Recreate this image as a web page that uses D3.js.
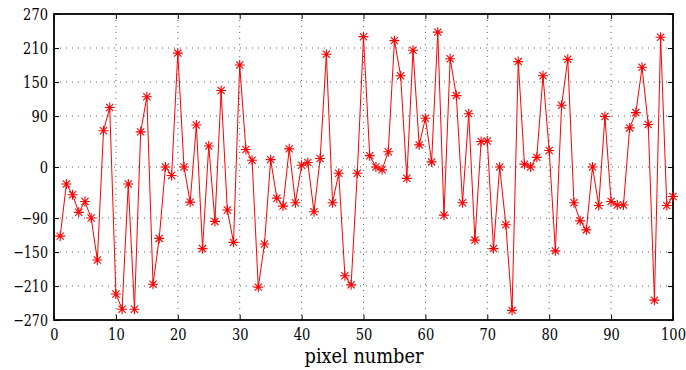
<!DOCTYPE html>
<html>
<head>
<meta charset="utf-8">
<script src="https://cdn.jsdelivr.net/npm/d3@7"></script>
<style>
html,body{margin:0;padding:0;background:#fff;}
svg{display:block;}
</style>
</head>
<body>
<svg id="chart" width="686" height="370"></svg>
<script>
const xValues = d3.range(1, 101);
const yValues = [
 -122, -30, -49, -80, -61, -90, -164, 64, 105, -224,
 -251, -30, -251, 62, 124, -207, -126, 0, -15, 201,
 0, -62, 74, -144, 37, -96, 135, -76, -133, 180,
 31, 12, -212, -136, 13, -55, -69, 32, -63, 3,
 8, -79, 15, 199, -63, -11, -192, -208, -11, 230,
 20, 0, -5, 27, 223, 161, -20, 206, 39, 86,
 9, 238, -85, 191, 126, -63, 94, -129, 45, 46,
 -144, 0, -102, -253, 186, 5, 0, 17, 161, 29,
 -148, 109, 190, -63, -95, -111, 0, -68, 89, -61,
 -67, -67, 69, 96, 176, 75, -235, 229, -68, -52
];
const xTicks = [0,10,20,30,40,50,60,70,80,90,100];
const yTicks = [-270,-210,-150,-90,0,90,150,210,270];
const xLabel = "pixel number";

const FONT = "'DejaVu Serif', serif";

const svg = d3.select("#chart");
const L = 54, R = 673, T = 14, B = 320;
const x = d3.scaleLinear().domain([0,100]).range([L,R]);
const y = d3.scaleLinear().domain([-270,270]).range([B,T]);
const fmt = d => d < 0 ? "\u2212" + Math.abs(d) : String(d);
const labelWidth = d => String(Math.abs(d)).length * 8.3 + (d < 0 ? 10 : 0);

// squeeze a text horizontally to a target width (serif font is wider than Times)
function fitWidth(node, target) {
  const w = node.getComputedTextLength();
  if (!w) return;
  const s = target / w;
  const x0 = +(node.getAttribute("x") || 0);
  node.setAttribute("x", x0 / s);
  const prev = node.getAttribute("transform") || "";
  node.setAttribute("transform", prev + ` scale(${s},1)`);
}

// grid
const grid = svg.append("g");
grid.selectAll("line.gx").data(xTicks.slice(1,-1)).join("line")
  .attr("x1", d=>x(d)).attr("x2", d=>x(d)).attr("y1", T).attr("y2", B)
  .attr("stroke", "#333").attr("stroke-width", 0.8).attr("stroke-dasharray", "1,5");
grid.selectAll("line.gy").data(yTicks.slice(1,-1)).join("line")
  .attr("x1", L).attr("x2", R).attr("y1", d=>y(d)).attr("y2", d=>y(d))
  .attr("stroke", "#333").attr("stroke-width", 0.8).attr("stroke-dasharray", "1,5");

// axes
const xAxis = svg.append("g").attr("transform", `translate(0,${B})`)
  .call(d3.axisBottom(x).tickValues(xTicks).tickSize(-5).tickPadding(20).tickFormat(fmt));
const xTop = svg.append("g").attr("transform", `translate(0,${T})`)
  .call(d3.axisTop(x).tickValues(xTicks).tickSize(-5).tickFormat(""));
const yAxis = svg.append("g").attr("transform", `translate(${L},0)`)
  .call(d3.axisLeft(y).tickValues(yTicks).tickSize(-5).tickPadding(6).tickFormat(fmt));
const yRight = svg.append("g").attr("transform", `translate(${R},0)`)
  .call(d3.axisRight(y).tickValues(yTicks).tickSize(-5).tickFormat(""));
[xAxis,xTop,yAxis,yRight].forEach(g=>{
  g.attr("font-family", FONT).attr("font-size", 17);
  g.select(".domain").remove();
  g.selectAll(".tick line").attr("stroke","#000").attr("stroke-width",1);
  g.selectAll(".tick text").style("font-family", FONT).style("font-size","17px").attr("fill","#000");
});
xAxis.selectAll(".tick text").attr("dy","0");
[xAxis, yAxis].forEach(g => g.selectAll(".tick text").each(function(d){ fitWidth(this, labelWidth(d)); }));

svg.append("rect").attr("x",L).attr("y",T).attr("width",R-L).attr("height",B-T)
  .attr("fill","none").attr("stroke","#000").attr("stroke-width",1.8);

// line
const data = xValues.map((d,i)=>({x:d,y:yValues[i]}));
svg.append("path").datum(data)
  .attr("fill","none").attr("stroke","#ff0000").attr("stroke-width",1)
  .attr("d", d3.line().x(d=>x(d.x)).y(d=>y(d.y)));

// asterisk markers
const r = 5, rd = r*0.72;
const star = `M${-r},0L${r},0M0,${-r}L0,${r}M${-rd},${-rd}L${rd},${rd}M${-rd},${rd}L${rd},${-rd}`;
svg.append("g").selectAll("path").data(data).join("path")
  .attr("transform", d=>`translate(${x(d.x)},${y(d.y)})`)
  .attr("d", star).attr("stroke","#ff0000").attr("stroke-width",1.1).attr("fill","none");

const lab = svg.append("text").attr("x",(L+R)/2 + 0.5).attr("y",363).attr("text-anchor","middle")
  .style("font-family", FONT).style("font-size","20px").text(xLabel);
fitWidth(lab.node(), 119);
</script>
</body>
</html>
